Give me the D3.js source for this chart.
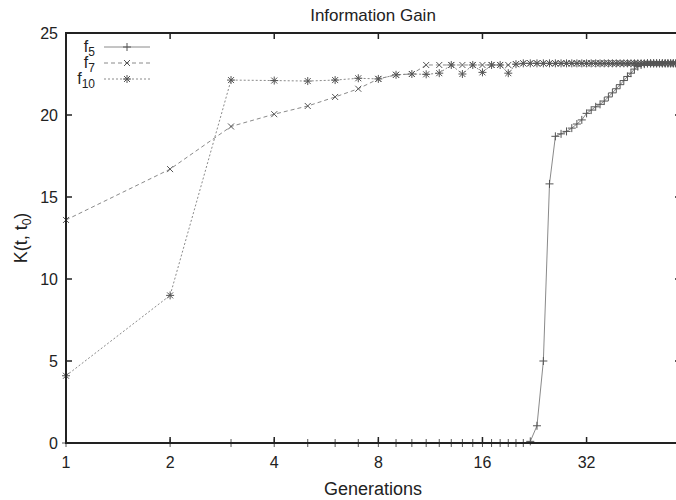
<!DOCTYPE html>
<html lang="en">
<head>
  <meta charset="UTF-8">
  <title>Information Gain</title>
  <script src="https://d3js.org/d3.v7.min.js"></script>
  <style>
    body { margin: 0; background: #fff; }
    svg { display: block; font-family: "Liberation Sans", Arial, sans-serif; }
  </style>
</head>
<body>
  <svg width="676" height="500"></svg>

  <script>
    // generations 1..60
    const generations = [
      1, 2, 3, 4, 5, 6, 7, 8, 9, 10, 11, 12, 13, 14, 15, 16, 17, 18, 19, 20,
      21, 22, 23, 24, 25, 26, 27, 28, 29, 30, 31, 32, 33, 34, 35, 36, 37, 38, 39, 40,
      41, 42, 43, 44, 45, 46, 47, 48, 49, 50, 51, 52, 53, 54, 55, 56, 57, 58, 59, 60
    ];

    const f5 = [
      0, 0, 0, 0, 0, 0, 0, 0, 0, 0, 0, 0, 0, 0, 0, 0, 0, 0, 0, 0,
      0, 0.1, 1.05, 5.0, 15.8, 18.7, 18.85, 19.0, 19.2, 19.45, 19.7, 20.1, 20.3, 20.5, 20.65, 20.85, 21.1, 21.35, 21.6, 21.85,
      22.1, 22.35, 22.55, 22.8, 22.95, 23.05, 23.1, 23.15, 23.15, 23.15, 23.15, 23.15, 23.15, 23.15, 23.15, 23.15, 23.15, 23.15, 23.15, 23.15
    ];

    const f7 = [
      13.6, 16.7, 19.3, 20.05, 20.55, 21.1, 21.6, 22.2, 22.45, 22.5, 23.05, 23.05, 23.05, 23.05, 23.05, 23.05, 23.05, 23.05, 23.05, 23.1,
      23.15, 23.15, 23.15, 23.15, 23.15, 23.15, 23.15, 23.15, 23.15, 23.15, 23.15, 23.15, 23.15, 23.15, 23.15, 23.15, 23.15, 23.15, 23.15, 23.15,
      23.15, 23.15, 23.15, 23.15, 23.15, 23.15, 23.15, 23.15, 23.15, 23.15, 23.15, 23.15, 23.15, 23.15, 23.15, 23.15, 23.15, 23.15, 23.15, 23.15
    ];

    const f10 = [
      4.1, 9.0, 22.13, 22.1, 22.07, 22.13, 22.24, 22.2, 22.45, 22.5, 22.48, 22.55, 23.05, 22.5, 23.05, 22.6, 23.05, 23.05, 22.55, 23.1,
      23.15, 23.15, 23.15, 23.15, 23.15, 23.15, 23.15, 23.15, 23.15, 23.15, 23.15, 23.15, 23.15, 23.15, 23.15, 23.15, 23.15, 23.15, 23.15, 23.15,
      23.15, 23.15, 23.15, 23.15, 23.15, 23.15, 23.15, 23.15, 23.15, 23.15, 23.15, 23.15, 23.15, 23.15, 23.15, 23.15, 23.15, 23.15, 23.15, 23.15
    ];

    const xTicks = [1, 2, 4, 8, 16, 32];
    const yTicks = [0, 5, 10, 15, 20, 25];

    const series = [
      { name: "f", sub: "5", values: f5, dash: null, marker: "plus" },
      { name: "f", sub: "7", values: f7, dash: "4,3", marker: "cross" },
      { name: "f", sub: "10", values: f10, dash: "2,2", marker: "star" }
    ];

    const margin = { left: 66, top: 33, right: 681, bottom: 443 };
    const svg = d3.select("svg");

    const x = d3.scaleLog().base(2).domain([1, 60]).range([margin.left, margin.right]);
    const y = d3.scaleLinear().domain([0, 25]).range([margin.bottom, margin.top]);

    const lineColor = "#8a8a8a";
    const markColor = "#555";

    // markers
    function markerPath(type, s) {
      const p = d3.path();
      if (type === "plus" || type === "star") {
        p.moveTo(-s, 0); p.lineTo(s, 0);
        p.moveTo(0, -s); p.lineTo(0, s);
      }
      if (type === "cross" || type === "star") {
        const c = s * 0.75;
        p.moveTo(-c, -c); p.lineTo(c, c);
        p.moveTo(-c, c); p.lineTo(c, -c);
      }
      return p.toString();
    }

    const line = d3.line()
      .x(d => x(d[0]))
      .y(d => y(d[1]));

    series.forEach(s => {
      const pts = generations.map((g, i) => [g, s.values[i]]);
      svg.append("path")
        .attr("d", line(pts))
        .attr("fill", "none")
        .attr("stroke", lineColor)
        .attr("stroke-width", 1)
        .attr("stroke-dasharray", s.dash);

      svg.append("g").selectAll("path")
        .data(pts)
        .join("path")
        .attr("transform", d => `translate(${x(d[0])},${y(d[1])})`)
        .attr("d", markerPath(s.marker, 4))
        .attr("fill", "none")
        .attr("stroke", markColor)
        .attr("stroke-width", 1);
    });

    // frame
    svg.append("rect")
      .attr("x", margin.left)
      .attr("y", margin.top)
      .attr("width", margin.right - margin.left)
      .attr("height", margin.bottom - margin.top)
      .attr("fill", "none")
      .attr("stroke", "#222")
      .attr("stroke-width", 2);

    // ticks
    const tickLen = 6;
    const tk = svg.append("g").attr("stroke", "#222").attr("stroke-width", 1.5);
    xTicks.forEach(t => {
      tk.append("line").attr("x1", x(t)).attr("x2", x(t))
        .attr("y1", margin.bottom).attr("y2", margin.bottom - tickLen);
      tk.append("line").attr("x1", x(t)).attr("x2", x(t))
        .attr("y1", margin.top).attr("y2", margin.top + tickLen);
    });
    yTicks.forEach(t => {
      tk.append("line").attr("x1", margin.left).attr("x2", margin.left + tickLen)
        .attr("y1", y(t)).attr("y2", y(t));
      tk.append("line").attr("x1", margin.right).attr("x2", margin.right - tickLen)
        .attr("y1", y(t)).attr("y2", y(t));
    });

    svg.append("g").selectAll("text")
      .data(xTicks)
      .join("text")
      .attr("x", d => x(d))
      .attr("y", 468)
      .attr("text-anchor", "middle")
      .attr("font-size", 16)
      .attr("fill", "#222")
      .text(d => d);

    svg.append("g").selectAll("text")
      .data(yTicks)
      .join("text")
      .attr("x", 58)
      .attr("y", d => y(d) + 6)
      .attr("text-anchor", "end")
      .attr("font-size", 16)
      .attr("fill", "#222")
      .text(d => d);

    // titles
    svg.append("text")
      .attr("x", 373).attr("y", 21)
      .attr("text-anchor", "middle")
      .attr("font-size", 17)
      .attr("fill", "#222")
      .text("Information Gain");

    svg.append("text")
      .attr("x", 373).attr("y", 495)
      .attr("text-anchor", "middle")
      .attr("font-size", 18)
      .attr("fill", "#222")
      .text("Generations");

    const yl = svg.append("text")
      .attr("transform", "translate(27,238) rotate(-90)")
      .attr("text-anchor", "middle")
      .attr("font-size", 18)
      .attr("fill", "#222");
    yl.append("tspan").text("K(t, t");
    yl.append("tspan").attr("font-size", 12).attr("dy", 4).text("0");
    yl.append("tspan").attr("dy", -4).text(")");

    // legend
    const legendY = [47, 63, 79];
    series.forEach((s, i) => {
      const g = svg.append("g").attr("transform", `translate(0,${legendY[i]})`);
      const t = g.append("text")
        .attr("x", 95).attr("y", 5)
        .attr("text-anchor", "end")
        .attr("font-size", 16)
        .attr("fill", "#222");
      t.append("tspan").text(s.name);
      t.append("tspan").attr("font-size", 12).attr("dy", 4).text(s.sub);
      g.append("line")
        .attr("x1", 104).attr("x2", 150)
        .attr("stroke", lineColor)
        .attr("stroke-dasharray", s.dash);
      g.append("path")
        .attr("transform", "translate(127,0)")
        .attr("d", markerPath(s.marker, 4))
        .attr("fill", "none")
        .attr("stroke", markColor);
    });
  </script>
</body>
</html>
